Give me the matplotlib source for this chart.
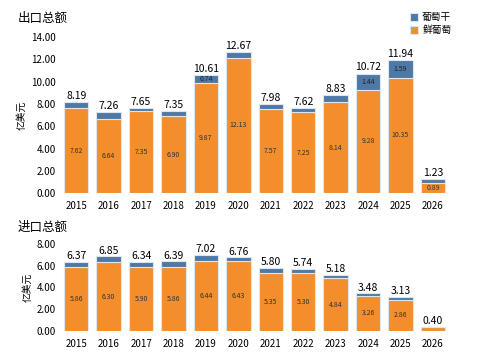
import matplotlib.pyplot as plt
import numpy as np

plt.rcParams['font.family'] = ['Noto Sans CJK SC', 'DejaVu Sans']

years = ['2015', '2016', '2017', '2018', '2019', '2020', '2021', '2022', '2023', '2024', '2025', '2026']

# 出口 (export)
exp_fresh = [7.62, 6.64, 7.35, 6.90, 9.87, 12.13, 7.57, 7.25, 8.14, 9.28, 10.35, 0.89]
exp_raisin = [0.57, 0.62, 0.30, 0.45, 0.74, 0.54, 0.41, 0.37, 0.69, 1.44, 1.59, 0.34]
exp_total = [8.19, 7.26, 7.65, 7.35, 10.61, 12.67, 7.98, 7.62, 8.83, 10.72, 11.94, 1.23]

# 进口 (import)
imp_fresh = [5.86, 6.30, 5.90, 5.86, 6.44, 6.43, 5.35, 5.30, 4.84, 3.26, 2.86, 0.37]
imp_raisin = [0.51, 0.55, 0.44, 0.53, 0.58, 0.33, 0.45, 0.44, 0.34, 0.22, 0.27, 0.03]
imp_total = [6.37, 6.85, 6.34, 6.39, 7.02, 6.76, 5.80, 5.74, 5.18, 3.48, 3.13, 0.40]

orange = '#F28E2B'
blue = '#4E79A7'
edge = '#DCE6F1'

fig = plt.figure(figsize=(4.84, 3.63), dpi=100)
ax1 = fig.add_axes([0.124, 0.468, 0.804, 0.430])
ax2 = fig.add_axes([0.124, 0.088, 0.804, 0.240])


def draw(ax, fresh, raisin, total, ymax, show_fresh_min):
  x = np.arange(len(years))
  b1 = ax.bar(x, fresh, 0.75, color=orange, edgecolor=edge, linewidth=0.8, label='鲜葡萄')
  b2 = ax.bar(x, raisin, 0.75, bottom=fresh, color=blue, edgecolor=edge, linewidth=0.8, label='葡萄干')
  for i in range(len(x)):
    if fresh[i] >= show_fresh_min:
      ax.text(x[i], fresh[i] / 2, f'{fresh[i]:.2f}', ha='center', va='center',
              fontsize=5, color='#333333')
    if raisin[i] >= 0.7:
      ax.text(x[i], fresh[i] + raisin[i] / 2, f'{raisin[i]:.2f}', ha='center',
              va='center', fontsize=5, color='#222222')
    ax.text(x[i], total[i] + 0.1 * ymax / 14, f'{total[i]:.2f}', ha='center',
            va='bottom', fontsize=7.5, color='black')
  ax.set_xlim(-0.5, len(x) - 0.5)
  ax.set_ylim(0, ymax)
  ax.set_xticks(x)
  ax.set_xticklabels(years, fontsize=7)
  ax.tick_params(axis='x', length=0, pad=6)
  ax.tick_params(axis='y', length=0, labelsize=7, pad=3)
  for s in ax.spines.values():
    s.set_visible(False)
  ax.set_ylabel('亿美元', fontsize=7, labelpad=3)
  return b1, b2


b1, b2 = draw(ax1, exp_fresh, exp_raisin, exp_total, 14, 0.5)
ax1.set_yticks(np.arange(0, 14.1, 2))
ax1.set_yticklabels([f'{v:.2f}' for v in np.arange(0, 14.1, 2)])

draw(ax2, imp_fresh, imp_raisin, imp_total, 8, 0.5)
ax2.set_yticks(np.arange(0, 8.1, 2))
ax2.set_yticklabels([f'{v:.2f}' for v in np.arange(0, 8.1, 2)])

fig.text(0.037, 0.95, '出口总额', fontsize=9, va='center', ha='left')
fig.text(0.037, 0.375, '进口总额', fontsize=9, va='center', ha='left')

fig.legend([b2, b1], ['葡萄干', '鲜葡萄'], loc='upper left', bbox_to_anchor=(0.83, 0.99),
           frameon=False, fontsize=7, handlelength=0.8, handleheight=0.8,
           handletextpad=0.4, labelspacing=0.3)

fig.savefig('out.png', dpi=100)
